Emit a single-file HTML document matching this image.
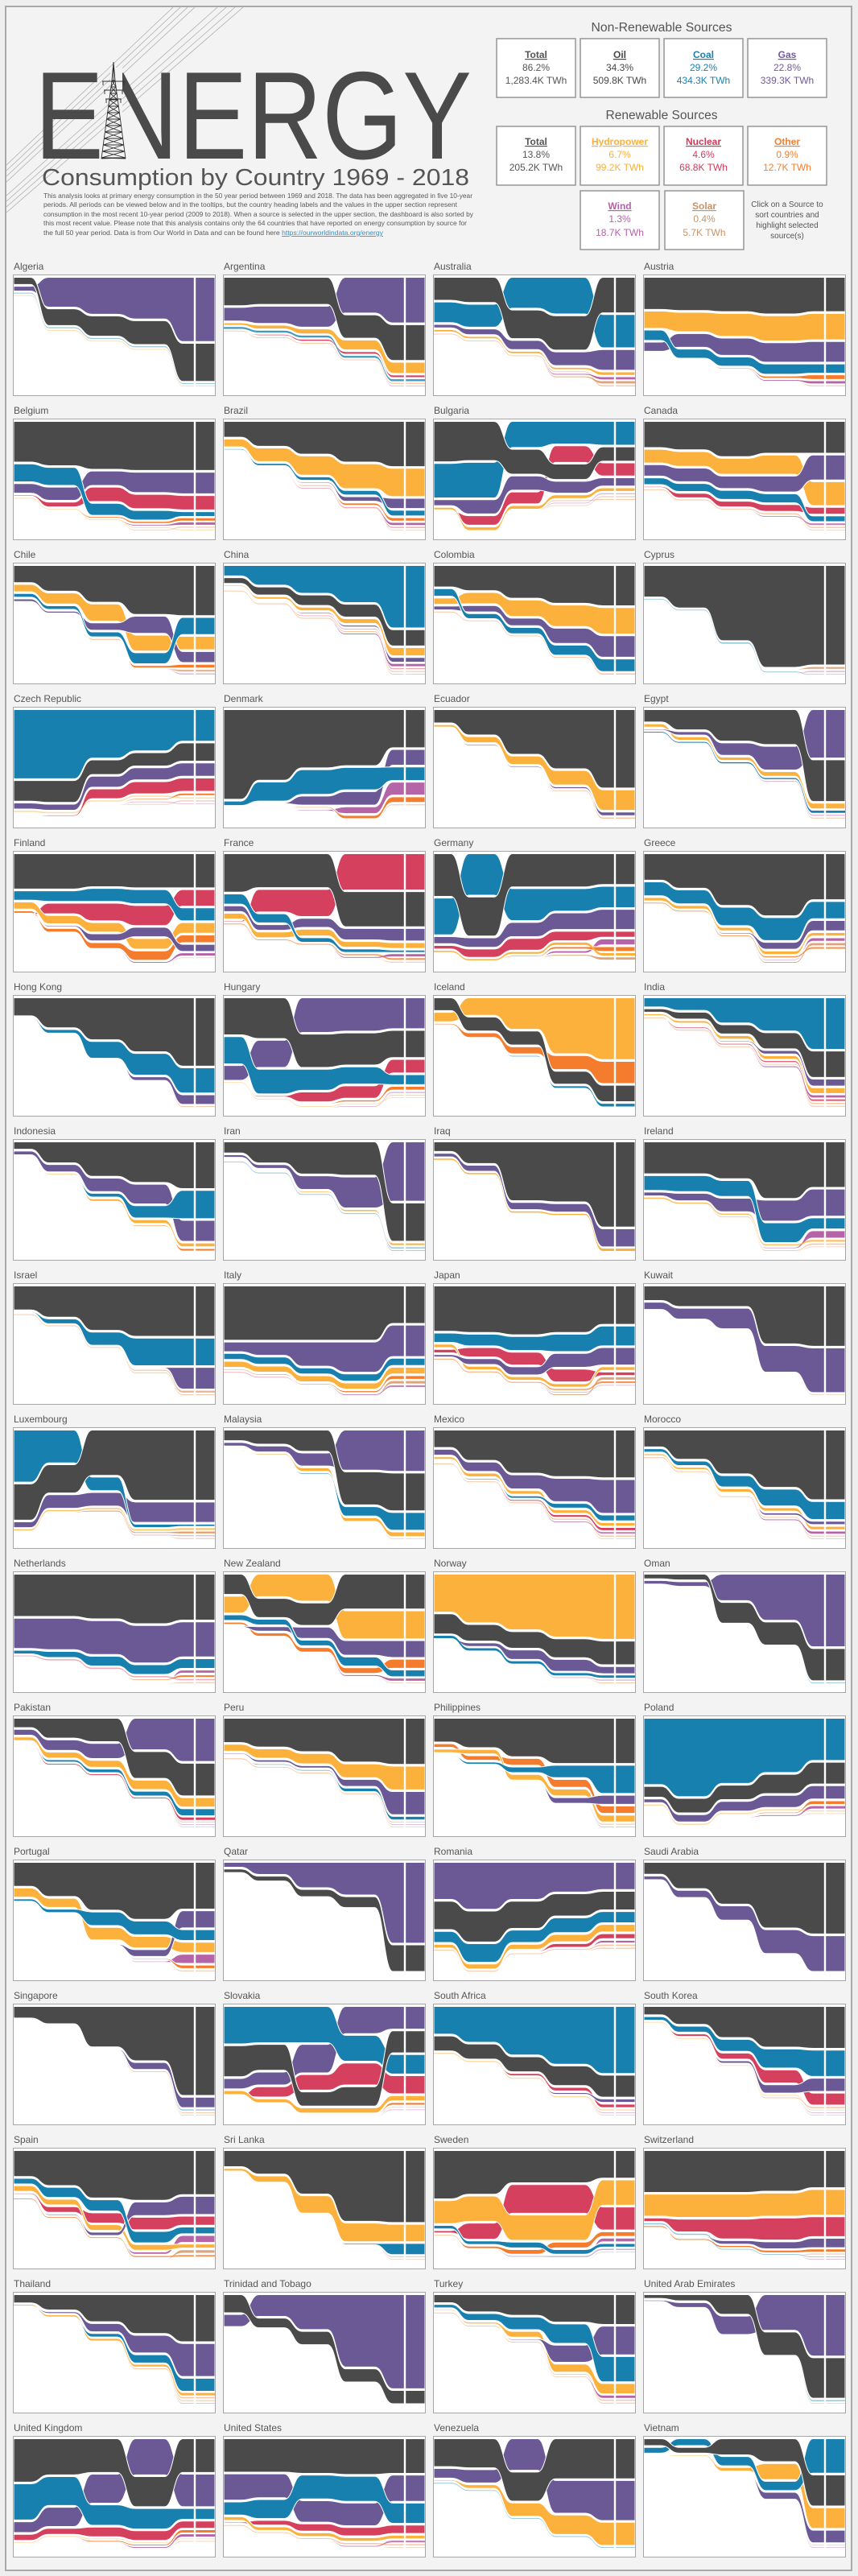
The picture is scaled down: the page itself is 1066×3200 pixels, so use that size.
<!DOCTYPE html>
<html><head><meta charset="utf-8"><title>Energy Consumption by Country 1969 - 2018</title>
<style>
html,body{margin:0;padding:0}
body{width:1066px;height:3200px;position:relative;overflow:hidden;background:#eeeeee;font-family:"Liberation Sans",Arial,sans-serif}
#frame{position:absolute;left:6px;top:7px;width:1049px;height:3183px;border:2px solid #a9a9a9;background:#f3f3f3}
#hdr{position:absolute;left:0;top:0}
#grid{position:absolute;left:16px;top:321px;display:grid;grid-template-columns:repeat(4,252px);column-gap:9px;grid-auto-rows:179px}
.cell{width:252px;height:171px}
.lab{height:20px;line-height:20px;font-size:12px;color:#555;padding-left:1px;white-space:nowrap}
.pan{width:250px;height:149px;border:1px solid #a6a6a6;background:#fff}
.pan svg{display:block}
</style></head><body>
<div id="frame"></div>
<svg id="hdr" width="1066" height="320" font-family="Liberation Sans, Arial, sans-serif">
 <g stroke="#a8a8a8" stroke-width="0.7" fill="none">
  <line x1="8" y1="205" x2="215" y2="9"/><line x1="8" y1="212" x2="224" y2="9"/>
  <line x1="8" y1="219" x2="233" y2="9"/><line x1="8" y1="226" x2="242" y2="9"/>
  <line x1="8" y1="243" x2="270" y2="9"/><line x1="8" y1="250" x2="281" y2="9"/>
  <line x1="8" y1="257" x2="292" y2="9"/><line x1="8" y1="264" x2="302" y2="9"/>
 </g>
 <text x="43" y="197" font-size="155" fill="#4a4a4a" textLength="543" lengthAdjust="spacingAndGlyphs">ENERGY</text>
 <rect x="137" y="84" width="15" height="115" fill="#f3f3f3"/>
 <path id="tower" d="" stroke="#2e2e2e" stroke-width="0.9" fill="none"/>
 <text x="52" y="230" font-size="28.5" fill="#555" textLength="531" lengthAdjust="spacingAndGlyphs">Consumption by Country 1969 - 2018</text>
 <g font-size="8.7" fill="#5a5a5a">
  <text x="54" y="246" textLength="533" lengthAdjust="spacingAndGlyphs">This analysis looks at primary energy consumption in the 50 year period between 1969 and 2018. The data has been aggregated in five 10-year</text>
  <text x="54" y="257" textLength="514" lengthAdjust="spacingAndGlyphs">periods. All periods can be viewed below and in the tooltips, but the country heading labels and the values in the upper section represent</text>
  <text x="54" y="269" textLength="534" lengthAdjust="spacingAndGlyphs">consumption in the most recent 10-year period (2009 to 2018). When a source is selected in the upper section, the dashboard is also sorted by</text>
  <text x="54" y="280" textLength="526" lengthAdjust="spacingAndGlyphs">this most recent value. Please note that this analysis contains only the 64 countries that have reported on energy consumption by source for</text>
  <text x="54" y="292" textLength="422" lengthAdjust="spacingAndGlyphs">the full 50 year period. Data is from Our World in Data and can be found here <tspan fill="#3a8fc0" style="text-decoration:underline">https://ourworldindata.org/energy</tspan></text>
 </g>
 <text x="822" y="39" text-anchor="middle" font-size="15.5" fill="#555" textLength="175" lengthAdjust="spacingAndGlyphs">Non-Renewable Sources</text>
 <text x="822" y="148" text-anchor="middle" font-size="15.5" fill="#555" textLength="139" lengthAdjust="spacingAndGlyphs">Renewable Sources</text>
 <g fill="#fff" stroke="#8f8f8f" stroke-width="1.4">
  <rect x="617" y="48" width="98" height="73"/><rect x="721" y="48" width="98" height="73"/>
  <rect x="825" y="48" width="98" height="73"/><rect x="929" y="48" width="98" height="73"/>
  <rect x="617" y="157" width="98" height="73"/><rect x="721" y="157" width="98" height="73"/>
  <rect x="825" y="157" width="98" height="73"/><rect x="929" y="157" width="98" height="73"/>
  <rect x="721" y="237" width="98" height="73"/><rect x="826" y="237" width="98" height="73"/>
 </g>
 <g font-size="12" text-anchor="middle">
  <g fill="#555"><text x="666" y="72" font-weight="bold" style="text-decoration:underline">Total</text><text x="666" y="88">86.2%</text><text x="666" y="104">1,283.4K TWh</text></g>
  <g fill="#474747"><text x="770" y="72" font-weight="bold" style="text-decoration:underline">Oil</text><text x="770" y="88">34.3%</text><text x="770" y="104">509.8K TWh</text></g>
  <g fill="#1a80b0"><text x="874" y="72" font-weight="bold" style="text-decoration:underline">Coal</text><text x="874" y="88">29.2%</text><text x="874" y="104">434.3K TWh</text></g>
  <g fill="#6e5b9e"><text x="978" y="72" font-weight="bold" style="text-decoration:underline">Gas</text><text x="978" y="88">22.8%</text><text x="978" y="104">339.3K TWh</text></g>
  <g fill="#555"><text x="666" y="180" font-weight="bold" style="text-decoration:underline">Total</text><text x="666" y="196">13.8%</text><text x="666" y="212">205.2K TWh</text></g>
  <g fill="#fbb03b"><text x="770" y="180" font-weight="bold" style="text-decoration:underline">Hydropower</text><text x="770" y="196">6.7%</text><text x="770" y="212">99.2K TWh</text></g>
  <g fill="#d6385a"><text x="874" y="180" font-weight="bold" style="text-decoration:underline">Nuclear</text><text x="874" y="196">4.6%</text><text x="874" y="212">68.8K TWh</text></g>
  <g fill="#f57f2f"><text x="978" y="180" font-weight="bold" style="text-decoration:underline">Other</text><text x="978" y="196">0.9%</text><text x="978" y="212">12.7K TWh</text></g>
  <g fill="#b562a8"><text x="770" y="260" font-weight="bold" style="text-decoration:underline">Wind</text><text x="770" y="276">1.3%</text><text x="770" y="293">18.7K TWh</text></g>
  <g fill="#c7946a"><text x="875" y="260" font-weight="bold" style="text-decoration:underline">Solar</text><text x="875" y="276">0.4%</text><text x="875" y="293">5.7K TWh</text></g>
 </g>
 <g font-size="10" fill="#555" text-anchor="middle">
  <text x="978" y="257">Click on a Source to</text>
  <text x="978" y="270">sort countries and</text>
  <text x="978" y="283">highlight selected</text>
  <text x="978" y="296">source(s)</text>
 </g>
</svg>
<div id="grid">
<div class="cell"><div class="lab">Algeria</div><div class="pan"><svg width="250" height="149"></svg></div></div>
<div class="cell"><div class="lab">Argentina</div><div class="pan"><svg width="250" height="149"></svg></div></div>
<div class="cell"><div class="lab">Australia</div><div class="pan"><svg width="250" height="149"></svg></div></div>
<div class="cell"><div class="lab">Austria</div><div class="pan"><svg width="250" height="149"></svg></div></div>
<div class="cell"><div class="lab">Belgium</div><div class="pan"><svg width="250" height="149"></svg></div></div>
<div class="cell"><div class="lab">Brazil</div><div class="pan"><svg width="250" height="149"></svg></div></div>
<div class="cell"><div class="lab">Bulgaria</div><div class="pan"><svg width="250" height="149"></svg></div></div>
<div class="cell"><div class="lab">Canada</div><div class="pan"><svg width="250" height="149"></svg></div></div>
<div class="cell"><div class="lab">Chile</div><div class="pan"><svg width="250" height="149"></svg></div></div>
<div class="cell"><div class="lab">China</div><div class="pan"><svg width="250" height="149"></svg></div></div>
<div class="cell"><div class="lab">Colombia</div><div class="pan"><svg width="250" height="149"></svg></div></div>
<div class="cell"><div class="lab">Cyprus</div><div class="pan"><svg width="250" height="149"></svg></div></div>
<div class="cell"><div class="lab">Czech Republic</div><div class="pan"><svg width="250" height="149"></svg></div></div>
<div class="cell"><div class="lab">Denmark</div><div class="pan"><svg width="250" height="149"></svg></div></div>
<div class="cell"><div class="lab">Ecuador</div><div class="pan"><svg width="250" height="149"></svg></div></div>
<div class="cell"><div class="lab">Egypt</div><div class="pan"><svg width="250" height="149"></svg></div></div>
<div class="cell"><div class="lab">Finland</div><div class="pan"><svg width="250" height="149"></svg></div></div>
<div class="cell"><div class="lab">France</div><div class="pan"><svg width="250" height="149"></svg></div></div>
<div class="cell"><div class="lab">Germany</div><div class="pan"><svg width="250" height="149"></svg></div></div>
<div class="cell"><div class="lab">Greece</div><div class="pan"><svg width="250" height="149"></svg></div></div>
<div class="cell"><div class="lab">Hong Kong</div><div class="pan"><svg width="250" height="149"></svg></div></div>
<div class="cell"><div class="lab">Hungary</div><div class="pan"><svg width="250" height="149"></svg></div></div>
<div class="cell"><div class="lab">Iceland</div><div class="pan"><svg width="250" height="149"></svg></div></div>
<div class="cell"><div class="lab">India</div><div class="pan"><svg width="250" height="149"></svg></div></div>
<div class="cell"><div class="lab">Indonesia</div><div class="pan"><svg width="250" height="149"></svg></div></div>
<div class="cell"><div class="lab">Iran</div><div class="pan"><svg width="250" height="149"></svg></div></div>
<div class="cell"><div class="lab">Iraq</div><div class="pan"><svg width="250" height="149"></svg></div></div>
<div class="cell"><div class="lab">Ireland</div><div class="pan"><svg width="250" height="149"></svg></div></div>
<div class="cell"><div class="lab">Israel</div><div class="pan"><svg width="250" height="149"></svg></div></div>
<div class="cell"><div class="lab">Italy</div><div class="pan"><svg width="250" height="149"></svg></div></div>
<div class="cell"><div class="lab">Japan</div><div class="pan"><svg width="250" height="149"></svg></div></div>
<div class="cell"><div class="lab">Kuwait</div><div class="pan"><svg width="250" height="149"></svg></div></div>
<div class="cell"><div class="lab">Luxembourg</div><div class="pan"><svg width="250" height="149"></svg></div></div>
<div class="cell"><div class="lab">Malaysia</div><div class="pan"><svg width="250" height="149"></svg></div></div>
<div class="cell"><div class="lab">Mexico</div><div class="pan"><svg width="250" height="149"></svg></div></div>
<div class="cell"><div class="lab">Morocco</div><div class="pan"><svg width="250" height="149"></svg></div></div>
<div class="cell"><div class="lab">Netherlands</div><div class="pan"><svg width="250" height="149"></svg></div></div>
<div class="cell"><div class="lab">New Zealand</div><div class="pan"><svg width="250" height="149"></svg></div></div>
<div class="cell"><div class="lab">Norway</div><div class="pan"><svg width="250" height="149"></svg></div></div>
<div class="cell"><div class="lab">Oman</div><div class="pan"><svg width="250" height="149"></svg></div></div>
<div class="cell"><div class="lab">Pakistan</div><div class="pan"><svg width="250" height="149"></svg></div></div>
<div class="cell"><div class="lab">Peru</div><div class="pan"><svg width="250" height="149"></svg></div></div>
<div class="cell"><div class="lab">Philippines</div><div class="pan"><svg width="250" height="149"></svg></div></div>
<div class="cell"><div class="lab">Poland</div><div class="pan"><svg width="250" height="149"></svg></div></div>
<div class="cell"><div class="lab">Portugal</div><div class="pan"><svg width="250" height="149"></svg></div></div>
<div class="cell"><div class="lab">Qatar</div><div class="pan"><svg width="250" height="149"></svg></div></div>
<div class="cell"><div class="lab">Romania</div><div class="pan"><svg width="250" height="149"></svg></div></div>
<div class="cell"><div class="lab">Saudi Arabia</div><div class="pan"><svg width="250" height="149"></svg></div></div>
<div class="cell"><div class="lab">Singapore</div><div class="pan"><svg width="250" height="149"></svg></div></div>
<div class="cell"><div class="lab">Slovakia</div><div class="pan"><svg width="250" height="149"></svg></div></div>
<div class="cell"><div class="lab">South Africa</div><div class="pan"><svg width="250" height="149"></svg></div></div>
<div class="cell"><div class="lab">South Korea</div><div class="pan"><svg width="250" height="149"></svg></div></div>
<div class="cell"><div class="lab">Spain</div><div class="pan"><svg width="250" height="149"></svg></div></div>
<div class="cell"><div class="lab">Sri Lanka</div><div class="pan"><svg width="250" height="149"></svg></div></div>
<div class="cell"><div class="lab">Sweden</div><div class="pan"><svg width="250" height="149"></svg></div></div>
<div class="cell"><div class="lab">Switzerland</div><div class="pan"><svg width="250" height="149"></svg></div></div>
<div class="cell"><div class="lab">Thailand</div><div class="pan"><svg width="250" height="149"></svg></div></div>
<div class="cell"><div class="lab">Trinidad and Tobago</div><div class="pan"><svg width="250" height="149"></svg></div></div>
<div class="cell"><div class="lab">Turkey</div><div class="pan"><svg width="250" height="149"></svg></div></div>
<div class="cell"><div class="lab">United Arab Emirates</div><div class="pan"><svg width="250" height="149"></svg></div></div>
<div class="cell"><div class="lab">United Kingdom</div><div class="pan"><svg width="250" height="149"></svg></div></div>
<div class="cell"><div class="lab">United States</div><div class="pan"><svg width="250" height="149"></svg></div></div>
<div class="cell"><div class="lab">Venezuela</div><div class="pan"><svg width="250" height="149"></svg></div></div>
<div class="cell"><div class="lab">Vietnam</div><div class="pan"><svg width="250" height="149"></svg></div></div>
</div>
<script>
(function(){
 var d='M141,77 L139,100 L126,197 M141,77 L143,100 L156,197 ';
 function xl(y){return 139-(y-100)*13/97;} function xr(y){return 143+(y-100)*13/97;}
 for(var y=100;y<197;y+=8){var y2=Math.min(y+8,197);
  d+='M'+xl(y).toFixed(1)+','+y+' L'+xr(y2).toFixed(1)+','+y2+' M'+xr(y).toFixed(1)+','+y+' L'+xl(y2).toFixed(1)+','+y2+' M'+xl(y).toFixed(1)+','+y+' L'+xr(y).toFixed(1)+','+y+' ';}
 d+='M141,84 L141,100 M127,101 L155,101 M129,112 L153,112 M131,123 L151,123 M128,101 v5 M154,101 v5 M130,112 v5 M152,112 v5 M132,123 v5 M150,123 v5';
 document.getElementById('tower').setAttribute('d',d);
})();
var D=[
"O6,14,17,20,32|G4,25,31,35,54|C.5,.8,.8,.8,.5|H.5,.5,.3,.3,.3",
"O23,22,22,19,29|G11,14,17,29,37|H2,3,4,8,9|N0,1,1.5,2,2|C1.5,1.5,1.5,1.5,1.5|W0,0,0,0,.5|X.3,.3,.3,.5,.8",
"O20,22,25,30,31|C18,20,27,32,29|G3,5,8,12,18|H2,2,2,2,3|X.5,.5,.5,.5,1|W0,0,0,.3,2|S0,0,0,.3,2",
"O28,29,30,32,30|H15,17,20,22,23|C9,8,8,9,8|G8,12,15,17,18|X.5,.5,1,2,4|W0,0,0,.5,2|S0,0,0,0,1",
"O34,37,40,41,41|C15,15,10,8,4|G8,11,12,17,18|N1,4,12,12,12|H.3,.3,.3,.3,.3|X0,0,.5,1,2|W0,0,0,.5,2|S0,0,0,.3,1",
"O14,22,29,36,40|H7,12,17,22,25|G.3,.3,1,4,9|C1,2,3,4,5|X.5,.5,1,2,3|N0,0,.5,1,1|W0,0,0,0,2|S0,0,0,0,.5",
"C29,30,22,19,20|O34,33,21,13,12|G5,12,12,10,7|N0,8,10,14,11|H2,3,3,3,3|X0,0,0,.3,.5|W0,0,0,.3,1|S0,0,0,.3,1",
"O23,25,31,28,28|H12,13,14,17,21|G10,12,11,14,22|C6,7,8,8,5|N1,4,5,6,6|X.5,.5,.5,1,1|W0,0,0,.3,1.5|S0,0,0,0,.5",
"O14,21,30,40,41|H6,9,14,13,11|C3,3,4,9,14|G2,1.5,6,14,9|X.5,.5,1,2,3|W0,0,0,0,1|S0,0,0,0,1.5",
"C9,17,24,32,54|O5,7,9,11,14|H1,2,3,4,7|G.3,.5,1,1.5,4|N0,0,.3,.5,1|W0,0,0,.3,2|S0,0,0,0,1|X.3,.3,.3,.5,.5",
"O17,20,26,30,32|H5,9,13,17,21|G3,5,6,12,17|C6,4,5,8,10|X.3,.3,.5,.5,1",
"O26,35,62,84,82|C.5,.5,1,.3,0|S0,0,0,.5,2|W0,0,0,0,1|X0,0,0,0,.5",
"C57,57,40,34,26|O17,18,12,11,15|G5,5,9,10,11|N0,1,8,10,11|H1,1,1,1,1|X.3,.3,.5,1,2|S0,0,0,.3,1|W0,0,0,.3,.5",
"O80,63,52,50,34|C4,17,22,20,12|G0,.5,8,12,14|W0,0,1,6,11.5|X.5,.5,1,3,5|S0,0,0,0,1",
"O11,21,37,49,65|H2,5,7,12,17|G.5,1,1,1.5,3|X0,0,0,.3,1",
"O11,18,28,31,37|G1,3,11,21,43|H3,3,3,4,5|C.5,.5,1,1,2|W0,0,0,.3,1|S0,0,0,0,1",
"O30,30,28,29,29|C8,9,11,12,11|N0,9,15,17,14|H6,7,8,9,9|X2,3,5,8,6.5|G0,1,6,8,6|W0,0,0,.3,2|S0,0,0,0,.3|#1:OCNHGX|#2:OCNHGX|#3:OCNGHX",
"O34,30,30,31,31|N1,20,24,32,32|C9,8,4,3,2|G5,5,8,10,11|H5,5,6,5,5|X.5,.5,.5,1,1.5|W0,0,0,.3,2|S0,0,0,0,1",
"O36,33,28,28,26|C31,35,27,19,18|G6,8,12,14,17|N3,7,10,8,5|H1,1,1.5,2,2|X.5,.5,1,2,4|W0,0,0,2,5|S0,0,0,.5,2",
"O23,30,45,54,40|C12,12,16,20,15|G0,0,1,6,9|H3,3,3,3,3|W0,0,0,1,3|S0,0,0,.3,2|X.3,.3,.5,1,1.5",
"O15,25,35,45,57|C.5,3,14,18,21|G0,0,0,3,8|X0,0,0,0,.5",
"O30,33,27,26,22|C22,20,17,14,8|G12,22,28,27,25|N0,1,8,10,11|X.3,.3,.5,1.5,3|H.3,.3,.3,.3,.3|W0,0,0,.3,1|S0,0,0,0,.5",
"H8,15,27,48,53|O11,12,12,11,14|X1,4,6,12,19|C.5,.5,1,2,3",
"C8,11,22,29,45|O3,6,8,14,23|H1.5,2,3,3,5|G0,.5,1,3,6|N0,.3,.5,1,1.5|W0,0,0,.5,2|S0,0,0,0,1|X.3,.3,.3,.5,1",
"O6,17,28,33,38|G3,6,11,16,17|C.3,.5,3,10,23|H.5,1,2,3,3|X0,.3,.5,1,2",
"O9,17,26,27,31|G2,3,11,25,48|H.5,.5,1,1.5,2|C.3,.3,.5,.5,1|N0,0,0,0,.5",
"O8,18,49,50,71|G3,5,6,7,15|H1,1,1,1,2",
"O26,26,30,46,37|C12,13,13,16,9|G3,6,11,17,22|H1,1,1,1,1.5|W0,0,0,1,6|X0,0,.3,.5,1|S0,0,0,0,.3",
"O20,26,37,42,42|C.3,4,11,23,23|G0,0,0,.5,18|S0,0,0,.5,1.5|X.3,.3,.3,.3,.5",
"O45,45,45,45,31|G8,11,20,25,26|C5,6,5,6,6|H5,5,5,5,5.5|X1,1,1,1.5,3|N.3,.5,0,0,0|S0,0,0,0,2|W0,0,0,.3,1.5",
"O39,40,42,40,33|C8,10,12,15,17|N3,8,11,11,3|G2,5,7,12,15|H3,3,3,3,3|X.5,.5,.5,1,1.5|S0,0,0,.3,2|W0,0,0,.3,.5",
"O12,17,17,48,50|G6,9,17,22,37|S0,0,0,0,.3",
"C46,29,12,3,2|O32,25,40,62,62|G5,12,12,18,18|H1,1,1,1,1.5|X0,0,.3,.5,1.5|W0,0,0,.3,1|S0,0,0,0,1",
"O9,12,18,28,32|G3,5,11,34,35|C.3,.3,1,8,15|H.5,1,3,3,4|S0,0,0,0,.5",
"O15,26,37,40,41|G5,8,12,20,29|H2,3,3,3,3|C.5,1,2,4,5|N0,0,.5,1.5,2|X.3,.5,.5,1,1|W0,0,0,.3,1.5|S0,0,0,0,.5",
"O15,26,39,51,62|C3,4,10,15,16|H1.5,2,3,3,3|G0,0,.3,2,3|W0,0,0,.5,2|S0,0,0,0,1|X.3,.3,.3,.5,.5",
"O35,35,37,41,38|G25,26,28,31,29|C3,5,8,8,8|N.5,1,1,1,1|W0,0,0,.5,2.5|X0,.3,.5,1,2|S0,0,0,0,1",
"O18,17,20,31,31|H15,20,24,25,25|C5,5,5,8,6|G.5,4,10,13,15|X2,3,4,5,8|W0,0,0,.3,2|S0,0,0,0,.3",
"H32,41,47,53,55|O17,14,14,16,20|G0,3,8,10,6|C2,2,2,2,2|W0,0,0,.3,1|X0,0,0,0,.5",
"O4,5,18,20,28|G3,4,23,40,63|C0,0,0,0,.5",
"O8,17,20,23,28|G5,9,13,27,37|H3,5,6,8,8|C.5,2,3,4,6|N0,.3,.3,.5,2|X0,0,0,0,.5|W0,0,0,0,.5|S0,0,0,0,.5",
"O21,25,29,38,40|H6,8,9,12,20.5|G1,2,2,6,20|C.5,1,1,3,3|X.3,.3,.3,.5,.5|W0,0,0,0,.5|S0,0,0,0,.5",
"O21,26,34,40,40|C.5,2,5,11,25|X3.2,4,6,7,6.5|H3,4,5,6,6|G0,0,0,5,8|W0,0,0,0,.5|S0,0,0,0,1",
"C55,65,54,45,35|O9,12,12,16,18|G3,6,8,10,11|H1,1,1,1,1|X.3,.3,.5,1,3|W0,0,0,.3,2|S0,0,0,0,.5",
"O21,30,42,50,41|H8,8,11,10,9|C2,3,12,12,9.5|G0,0,.3,6,15|W0,0,0,1,8|X.5,.5,.5,1,3|S0,0,0,0,1",
"G4,10,21,27,67|O3,4,6,9,22",
"G30,38,30,24,22|O23,25,22,18,15|C9,15,10,12,9|H3,4,4,6,6|N0,0,.5,3,4|W0,0,0,0,2|X.3,.3,.3,.5,1|S0,0,0,0,1",
"O10,22,35,55,60|G3,6,12,20,30",
"O10,15,35,47,77|G0,0,.5,6,9|C0,0,0,0,1|S0,0,0,0,.5|X0,0,0,.3,.5",
"C29,28,28,20,15|O24,20,11,15,17|G8,10,22,21,17.5|N0,8,12,17,14|H3,3,4,4,4|X0,0,.3,.5,2|W0,0,0,0,.3|S0,0,0,0,.5",
"C24,31,42,50,58|O13,13,13,17,19|N0,0,2,3,3|G0,0,.5,1.5,3|H1,1,1,1,1|W0,0,0,0,.5|S0,0,0,0,.5",
"O7,15,26,34,35|C3,5,10,16,22|N0,2,5,11,10|G0,0,2,7,11|H.5,.5,.5,.5,.5|X0,0,0,.3,1|S0,0,0,0,.5|W0,0,0,0,.5",
"O23,31,42,44,39|C5,9,10,10,6|H5,5,5,5,3.5|N1,5,9,11,8|G.5,1,3,12,16|W0,0,0,2,6|S0,0,0,.3,3|X.3,.3,.3,1,1.5",
"O13,19,35,57,58|H2,5,14,15,14|C0,0,0,1,9|W0,0,0,0,.5|S0,0,0,0,.5",
"O42,38,28,28,24|H20,22,22,22,22|N2,14,25,25,20|C3,3,5,4,3|X1,2,4,5,4|W0,0,0,.5,3.2|G0,0,.5,1,1|S0,0,0,0,.3",
"O36,36,36,35,32|H19,20,20,20,22|N3,11,17,19,17|G0,.5,3,6,8|C1,1,.5,.3,.3|X.3,.5,1,1.5,2|S0,0,0,0,1|W0,0,0,0,.3",
"O7,13,23,33,40|G0,1.5,7,15,28|C0,.5,3,7,11|H.5,1,1.5,1.5,2|X0,0,0,.5,1|S0,0,0,0,1|W0,0,0,0,.3",
"O15,8,11,11,11|G10,18,29,60,78",
"O7,15,18,24,26|C3,6,11,17,22|H1,1.5,5,7,9|G0,0,1,15,25|W0,0,0,0,2|X.3,.3,.3,.5,1|S0,0,0,.3,1",
"O3,5,16,19,33|G1,4,15,29,50|C0,0,0,0,1|S0,0,0,0,.5",
"O36,30,28,25,28|C30,24,17,17,9|G9,16,24,30,27|N5,5,8,8,6|H.5,.5,.5,.5,.5|W0,0,0,.5,2|X0,0,.3,.5,2|S0,0,0,0,.5",
"O28,28,29,30,29|G22,20,18,19,22|C11,16,20,21,17|N1,4,6,7,7|H3,3,3,3,3|W0,0,0,.3,1.5|X.3,.3,.5,1,1|S0,0,0,0,.5",
"O23,24,24,33,33|G8,11,26,27,33|H1,3,11,16,19|C.3,.3,.3,.3,.3",
"O6,5,14,20,27|C5,6,8,8,30|H.5,1,3,14,18|G0,0,0,6,11|S0,0,0,0,.5|W0,0,0,0,.3"
];
var COL={O:'#4a4a4a',C:'#1780ae',G:'#6b5996',H:'#fbb13c',N:'#d6405f',X:'#f47c2c',W:'#b565a7',S:'#dca57c'};
var IDX='OCGHNXWS';
var T=[0.13,0.345,0.56,0.795],HW=0.045;
var W=250,H=149,GAP=2.2,MINH=0.9,TOP=2.5,BOT=138;
function parse(spec){var v={},ov={};spec.split('|').forEach(function(p){if(p.charAt(0)==='#'){var a=p.slice(1).split(':');ov[+a[0]]=a[1];}else{var arr=p.slice(1).split(',').map(Number);while(arr.length<5)arr.push(0);v[p.charAt(0)]=arr;}});return{v:v,ov:ov};}
function lay(v,ov,k){var keys=Object.keys(v);var res=[];
 for(var p=0;p<5;p++){
  var act=keys.filter(function(s){return v[s][p]>0;});
  act.sort(function(a,b){return (v[b][p]-v[a][p])||(IDX.indexOf(a)-IDX.indexOf(b));});
  if(ov[p]){var o=ov[p].split('').filter(function(s){return act.indexOf(s)>=0;});act=o.concat(act.filter(function(s){return o.indexOf(s)<0;}));}
  var y=TOP,m={};
  act.forEach(function(s){var h=Math.max(v[s][p]*k,MINH);m[s]=[y,y+h];y+=h+GAP;});
  var b=act.length?y-GAP:TOP;
  keys.forEach(function(s){if(!m[s])m[s]=[b+GAP*0.5,b+GAP*0.5];});
  m._b=b;res.push(m);}
 return res;}
function f(x){return x.toFixed(2);}
function build(svg,spec){
 var P=parse(spec),v=P.v,ov=P.ov;var lo=0,hi=20;
 for(var i=0;i<40;i++){var k=(lo+hi)/2;var L=lay(v,ov,k);var mb=Math.max.apply(null,L.map(function(m){return m._b;}));if(mb>BOT)hi=k;else lo=k;}
 var L=lay(v,ov,lo);var out='';
 var keys=Object.keys(v).sort(function(a,b){return IDX.indexOf(b)-IDX.indexOf(a);});
 keys.forEach(function(s){
  var t=L.map(function(m){return m[s][0];}),b=L.map(function(m){return m[s][1];});
  var mh=0;for(var i=0;i<5;i++)mh=Math.max(mh,b[i]-t[i]);if(mh<0.01)return;
  var d='M0,'+f(t[0]);
  for(var i=0;i<4;i++){var x0=(T[i]-HW)*W,xc=T[i]*W,x1=(T[i]+HW)*W;
   d+=' L'+f(x0)+','+f(t[i])+' C'+f(xc)+','+f(t[i])+' '+f(xc)+','+f(t[i+1])+' '+f(x1)+','+f(t[i+1]);}
  d+=' L'+W+','+f(t[4])+' L'+W+','+f(b[4]);
  for(var i=3;i>=0;i--){var x0=(T[i]-HW)*W,xc=T[i]*W,x1=(T[i]+HW)*W;
   d+=' L'+f(x1)+','+f(b[i+1])+' C'+f(xc)+','+f(b[i+1])+' '+f(xc)+','+f(b[i])+' '+f(x0)+','+f(b[i]);}
  d+=' L0,'+f(b[0])+' Z';
  var op=mh<1.6?0.45:(mh<2.6?0.8:1);
  var st=mh>=3?' stroke="#fff" stroke-width="1"':'';
  out+='<path d="'+d+'" fill="'+COL[s]+'" fill-opacity="'+op+'"'+st+'/>';
 });
 out+='<rect x="'+(0.9*W-1.2).toFixed(1)+'" y="0" width="2.4" height="'+H+'" fill="#fff"/>';
 svg.innerHTML=out;}
var svgs=document.querySelectorAll('#grid .pan svg');
for(var i=0;i<svgs.length;i++){if(D[i])build(svgs[i],D[i]);}
</script>
</body></html>
